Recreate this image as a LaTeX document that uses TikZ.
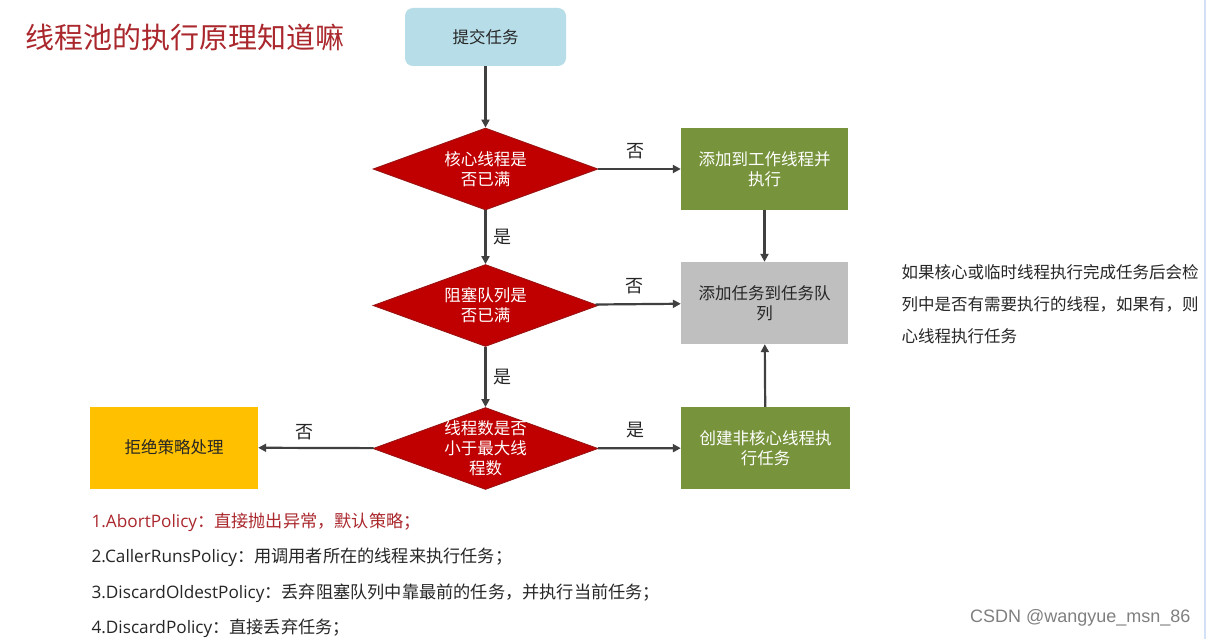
\documentclass[tikz,border=0pt]{standalone}
\usepackage{fontspec}
\setmainfont{Noto Sans CJK SC}
\newfontfamily\wmfont{Liberation Sans}
\newfontfamily\latfont{Open Sans}
\usetikzlibrary{shapes.geometric,arrows.meta}
\definecolor{titlered}{RGB}{170,40,45}
\definecolor{dred}{RGB}{192,0,0}
\definecolor{dredb}{RGB}{150,20,20}
\definecolor{ogreen}{RGB}{119,147,60}
\definecolor{lgray}{RGB}{191,191,191}
\definecolor{gold}{RGB}{255,192,0}
\definecolor{lblue}{RGB}{183,222,232}
\definecolor{arr}{RGB}{64,64,64}
\definecolor{txt}{RGB}{38,38,38}
\begin{document}
\begin{tikzpicture}[x=1pt,y=-1pt,
  boxtxt/.style={font=\fontsize{16.5}{20}\selectfont,align=center},
  rbox/.style={boxtxt,minimum width=167pt,minimum height=82pt,inner sep=0pt},
  dia/.style={diamond,fill=dred,draw=dredb,line width=0.8pt,minimum width=225pt,minimum height=82pt,inner sep=0pt},
  conn/.style={draw=arr,line width=2.2pt,-{Triangle[length=8pt,width=8pt]}},
  lbl/.style={font=\fontsize{18}{20}\selectfont,text=txt},
  pol/.style={anchor=west,font=\fontsize{17.2}{20}\selectfont,text=txt},
  side/.style={anchor=west,font=\fontsize{16.5}{20}\selectfont,text=txt}]
\fill[white] (0,0) rectangle (1207,639);
\useasboundingbox (0,0) rectangle (1207,639);
\draw[lblue!80!blue!40,line width=2pt] (1205,0) -- (1205,639);

\node[anchor=west,text=titlered,font=\fontsize{29}{30}\selectfont] (title) at (22,37) {线程池的执行原理知道嘛};

\node[boxtxt,fill=lblue,rounded corners=8pt,minimum width=161pt,minimum height=58pt,text=txt] (submit) at (485.5,37) {提交任务};

\node[dia] (d1) at (485.5,169) {};
\node[boxtxt,text=white] (d1t) at (d1.center) {核心线程是\\否已满};
\node[dia] (d2) at (485.5,305.5) {};
\node[boxtxt,text=white] (d2t) at (d2.center) {阻塞队列是\\否已满};
\node[dia] (d3) at (485.5,448.5) {};
\node[boxtxt,text=white] (d3t) at (d3.center) {线程数是否\\小于最大线\\程数};

\node[rbox,fill=ogreen,text=white] (g1) at (764.5,169) {添加到工作线程并\\执行};
\node[rbox,fill=lgray,text=txt] (q) at (764.5,303) {添加任务到任务队\\列};
\node[rbox,fill=ogreen,text=white,minimum width=169pt] (g2) at (765.5,448) {创建非核心线程执\\行任务};
\node[rbox,fill=gold,text=txt,minimum width=168pt] (rej) at (174,447.5) {拒绝策略处理};

\draw[conn] (submit) -- (d1);
\draw[conn] (d1) -- node[lbl,pos=0.45,above=6pt] {否} (g1);
\draw[conn] (g1) -- (q);
\draw[conn] (d1) -- node[lbl,right=4pt] {是} (d2);
\draw[conn] (d2) -- node[lbl,pos=0.45,above=6pt] {否} (q);
\draw[conn] (d2) -- node[lbl,right=4pt] {是} (d3);
\draw[conn] (d3) -- node[lbl,pos=0.6,above=4pt] {否} (rej);
\draw[conn] (d3) -- node[lbl,pos=0.45,above=6pt] {是} (g2);
\draw[conn] (g2) -- (q);

\begin{scope}
\clip (880,250) rectangle (1201,360);
\node[side] (n1) at (898,272) {如果核心或临时线程执行完成任务后会检};
\node[side] (n2) at (898,304) {列中是否有需要执行的线程，如果有，则};
\node[side] (n3) at (898,336) {心线程执行任务};
\end{scope}

\node[pol,text=titlered] (p1) at (88,522) {{\latfont 1.AbortPolicy}：直接抛出异常，默认策略；};
\node[pol] (p2) at (88,557) {{\latfont 2.CallerRunsPolicy}：用调用者所在的线程来执行任务；};
\node[pol] (p3) at (88,593) {{\latfont 3.DiscardOldestPolicy}：丢弃阻塞队列中靠最前的任务，并执行当前任务；};
\node[pol] (p4) at (88,628) {{\latfont 4.DiscardPolicy}：直接丢弃任务；};

\node[anchor=east,text=gray,font=\wmfont\fontsize{18}{20}\selectfont] (wm) at (1194,618) {CSDN @wangyue\_msn\_86};
\end{tikzpicture}
\end{document}
